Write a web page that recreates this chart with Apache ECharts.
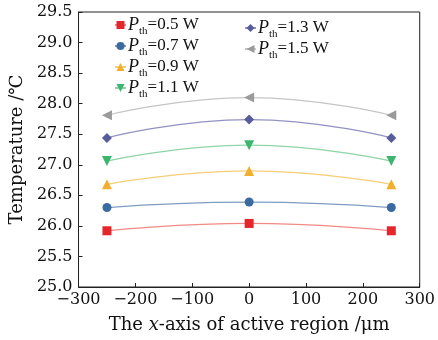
<!DOCTYPE html>
<html><head><meta charset="utf-8">
<script src="https://cdn.jsdelivr.net/npm/echarts@6/dist/echarts.min.js"></script>
<style>html,body{margin:0;padding:0;background:#fff}#c{width:438px;height:340px}</style>
</head><body><div id="c"></div>
<script>
const xPositions = [-250, 0, 250];
const powers = ['0.5', '0.7', '0.9', '1.1', '1.3', '1.5'];
const t05 = [25.92, 26.04, 25.92];
const t07 = [26.30, 26.39, 26.30];
const t09 = [26.68, 26.90, 26.68];
const t11 = [27.06, 27.32, 27.06];
const t13 = [27.44, 27.74, 27.44];
const t15 = [27.81, 28.10, 27.81];
const yTicks = ['25.0','25.5','26.0','26.5','27.0','27.5','28.0','28.5','29.0','29.5'];

const FONT = 'DejaVu Serif';
const LFONT = 'Liberation Serif';
const seriesData = [t05, t07, t09, t11, t13, t15];
const markerColors = ['#e5262a', '#3b6aa0', '#f4ae2e', '#3cb56e', '#585c9c', '#9a9a9a'];
const lineColors = ['#f08a85', '#7f9dc4', '#f8cd78', '#8fd4a6', '#9292c4', '#c6c6c6'];
const symbols = ['rect', 'circle', 'triangle', 'path://M0,0 L10,0 L5,9 Z', 'diamond', 'path://M9,0 L0,5 L9,10 Z'];
const symSizes = [9, 9, 10, 10, 10, 10];

const names = powers.map(p => 'P' + p);
const series = seriesData.map((d, i) => ({
  name: names[i], type: 'line', smooth: 0.5,
  data: d.map((v, j) => [xPositions[j], v]),
  symbol: symbols[i], symbolSize: symSizes[i],
  itemStyle: {color: markerColors[i]},
  lineStyle: {color: lineColors[i], width: 1.3},
  z: 3
}));

const richLegend = {
  p: {fontFamily: LFONT, fontStyle: 'italic', fontSize: 18, color: '#111'},
  s: {fontFamily: LFONT, fontSize: 11, color: '#111', padding: [13, 0, 0, 0]},
  n: {fontFamily: LFONT, fontSize: 17, color: '#111'}
};
const fmt = name => '{p|P}{s|th}{n|=' + name.slice(1) + ' W}';

const chart = echarts.init(document.getElementById('c'));
chart.setOption({
  animation: false,
  grid: {left: 77, right: 18, top: 12, bottom: 53, show: true, borderColor: '#222', borderWidth: 1},
  legend: [
    {data: names.slice(0, 4), orient: 'vertical', left: 109, top: 11, itemGap: 0, itemWidth: 11, itemHeight: 10,
     formatter: fmt, textStyle: {rich: richLegend, padding: [0,0,0,-3]}},
    {data: names.slice(4), orient: 'vertical', left: 239, top: 14, itemGap: 0, itemWidth: 11, itemHeight: 10,
     formatter: fmt, textStyle: {rich: richLegend, padding: [0,0,0,-3]}}
  ],
  xAxis: {
    type: 'value', min: -300, max: 300, interval: 100,
    axisLine: {onZero: false, lineStyle: {color: '#222'}},
    axisTick: {inside: true, length: 4, lineStyle: {color: '#222'}},
    axisLabel: {fontFamily: FONT, fontSize: 16, color: '#111', margin: 5,
      formatter: v => (v < 0 ? '\u2212' + (-v) : '' + v)},
    splitLine: {show: false},
    name: '{a|The }{i|x}{a|-axis of active region /\u03bcm}',
    nameLocation: 'middle', nameGap: 29,
    nameTextStyle: {rich: {a: {fontFamily: FONT, fontSize: 18, color: '#111'}, i: {fontFamily: FONT, fontStyle: 'italic', fontSize: 18, color: '#111'}}}
  },
  yAxis: {
    type: 'value', min: 25, max: 29.5, interval: 0.5,
    axisLine: {onZero: false, lineStyle: {color: '#222'}},
    axisTick: {inside: true, length: 4, lineStyle: {color: '#222'}},
    axisLabel: {fontFamily: FONT, fontSize: 16, color: '#111', margin: 6,
      formatter: v => yTicks[Math.round((v - 25) / 0.5)]},
    splitLine: {show: false},
    name: 'Temperature /\u2103', nameLocation: 'middle', nameGap: 44,
    nameTextStyle: {fontFamily: FONT, fontSize: 18, color: '#111'}
  },
  series: series
});
</script></body></html>
